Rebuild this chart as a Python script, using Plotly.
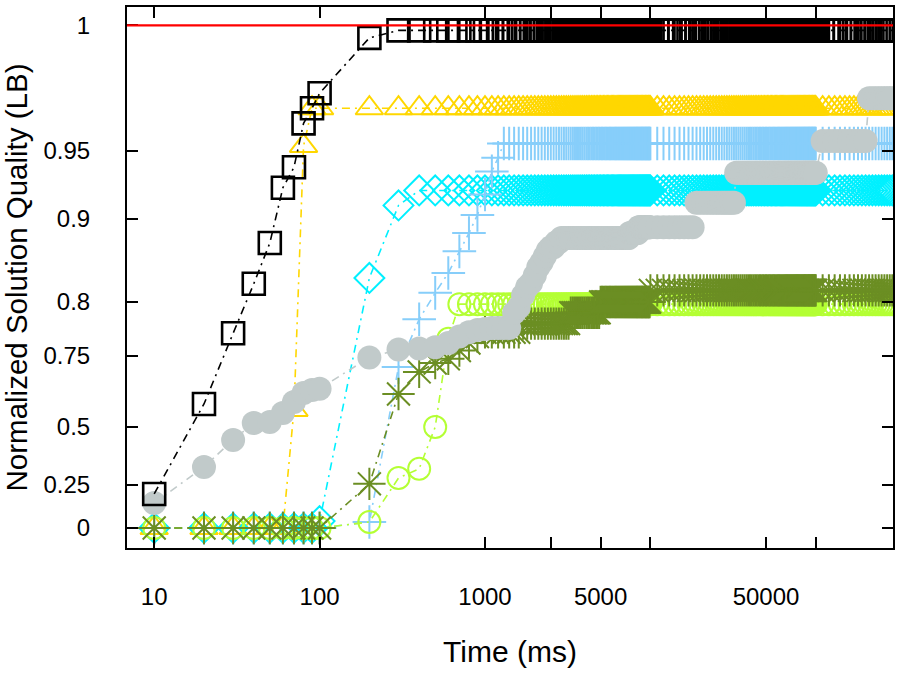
import numpy as np
import plotly.graph_objects as go

# ---------------- sample times (ms) ----------------
TIMES = (list(range(10, 100, 10)) + list(range(100, 10000, 100))
         + list(range(10000, 100000, 1000)) + list(range(100000, 300000, 10000)))

# ---------------- series: best-so-far quality, as (time, value) change points ----------------
BLACK_T = [10, 20, 30, 40, 50, 60, 70, 80, 90, 100, 200, 300]
BLACK_Q = [0.198, 0.581, 0.771, 0.822, 0.871, 0.923, 0.938, 0.961, 0.967, 0.973, 0.995, 0.998]

GOLD_T = [10, 70, 80, 90]
GOLD_Q = [0.0, 0.56, 0.952, 0.967]

CYAN_T = [10, 100, 200, 300, 400]
CYAN_Q = [0.0, 0.04, 0.829, 0.910, 0.921]

LBLUE_T = [10, 200, 300, 400, 500, 600, 700, 800, 900, 1000, 1100, 1200, 1300]
LBLUE_Q = [0.0, 0.035, 0.711, 0.784, 0.811, 0.835, 0.861, 0.883, 0.903, 0.918, 0.935, 0.945, 0.953]

GYELLOW_T = [10, 200, 300, 400, 500, 600, 700]
GYELLOW_Q = [0.0, 0.035, 0.28, 0.32, 0.5, 0.766, 0.798]

OLIVE_T = [10, 200, 300, 400, 500, 600, 700, 800, 900, 1000, 1700, 3300, 5000, 10000]
OLIVE_Q = [0.0, 0.255, 0.616, 0.694, 0.725, 0.74, 0.755, 0.762, 0.768, 0.772, 0.78, 0.79, 0.80, 0.814]

GRAY_T = [10, 20, 30, 40, 50, 60, 70, 80, 90, 100, 200, 300, 400, 500, 600, 700, 800, 900,
          1000, 1100, 1500, 1600, 1700, 1800, 1900, 2000, 2100, 2200, 2300, 2400, 2500, 2700,
          2900, 7500, 8500, 19000, 33000, 110000, 210000]
GRAY_Q = [0.145, 0.328, 0.444, 0.514, 0.518, 0.549, 0.588, 0.62, 0.63, 0.635, 0.745, 0.756,
          0.757, 0.758, 0.762, 0.768, 0.772, 0.774, 0.775, 0.776, 0.79, 0.795, 0.808, 0.818,
          0.823, 0.832, 0.842, 0.848, 0.855, 0.862, 0.866, 0.872, 0.877, 0.883, 0.89, 0.912,
          0.934, 0.954, 0.971]

OPTIMUM = 1.0

# ---------------- axes ----------------
X_TICK_VALS = [10, 100, 1000, 2500, 5000, 10000, 50000, 100000]
X_TICK_TEXT = ["10", "100", "1000", "", "5000", "", "50000", ""]

Y_TICK_VALS = [0, 0.25, 0.5, 0.75, 0.8, 0.9, 0.95, 1.0]
Y_TICK_TEXT = ["0", "0.25", "0.5", "0.75", "0.8", "0.9", "0.95", "1"]
# non-linear quality scale: display position of each tick value
Y_SCALE_POS = [20, 63, 121, 192, 246, 329, 397, 522.7]
Y_DISPLAY_RANGE = [0, 541]

t_arr = np.array(TIMES, dtype=float)


def expand(bt, bq):
    idx = np.searchsorted(np.array(bt, dtype=float), t_arr, side="right") - 1
    return np.array(bq)[idx]


def to_disp(q):
    return np.interp(q, Y_TICK_VALS, Y_SCALE_POS)


DASH = "8px,5px,2px,5px"
fig = go.Figure()

series = [
    ("Gold", GOLD_T, GOLD_Q, "#FFD700", "triangle-up-open", 24, 2),
    ("Cyan", CYAN_T, CYAN_Q, "#00F0FF", "diamond-open", 23, 2),
    ("LightBlue", LBLUE_T, LBLUE_Q, "#87CEFA", "cross-thin-open", 24, 2),
    ("GreenYellow", GYELLOW_T, GYELLOW_Q, "#B4FF34", "circle-open", 22, 2),
    ("Olive", OLIVE_T, OLIVE_Q, "#6B8E23", "asterisk-open", 27, 2),
    ("Gray", GRAY_T, GRAY_Q, "#C1CACA", "circle", 24, 0),
    ("Black", BLACK_T, BLACK_Q, "#000000", "square-open", 22, 2.6),
]

for name, bt, bq, col, sym, size, lw in series:
    y = to_disp(expand(bt, bq))
    fig.add_trace(go.Scatter(
        x=TIMES, y=y, name=name, mode="lines+markers",
        line=dict(color=col, width=1.6, dash=DASH),
        marker=dict(symbol=sym, size=size, color=col,
                    line=dict(color=col, width=lw)),
        cliponaxis=True,
    ))

fig.add_hline(y=float(to_disp(OPTIMUM)), line=dict(color="#FF0000", width=2.2), layer="above")

FONT = "Liberation Sans, Arial, Helvetica, sans-serif"
fig.update_layout(
    width=900, height=675,
    margin=dict(l=127, r=7, t=7, b=127),
    paper_bgcolor="white", plot_bgcolor="white",
    showlegend=False,
    font=dict(family=FONT, color="black"),
    xaxis=dict(
        type="log", range=[0.8356, 5.4668],
        tickvals=X_TICK_VALS, ticktext=X_TICK_TEXT,
        ticks="inside", ticklen=11, tickwidth=1.5, tickcolor="black",
        showline=True, linewidth=2, linecolor="black", mirror="ticks",
        showgrid=False, zeroline=False,
        tickfont=dict(size=24), ticklabelstandoff=26,
        title=dict(text="Time (ms)", font=dict(size=30), standoff=32),
        automargin=False,
    ),
    yaxis=dict(
        range=Y_DISPLAY_RANGE,
        tickvals=list(to_disp(Y_TICK_VALS)), ticktext=Y_TICK_TEXT,
        ticks="inside", ticklen=11, tickwidth=1.5, tickcolor="black",
        showline=True, linewidth=2, linecolor="black", mirror="ticks",
        showgrid=False, zeroline=False,
        tickfont=dict(size=24), ticklabelstandoff=30,
        title=dict(text="Normalized Solution Quality (LB)", font=dict(size=29.5), standoff=8),
        automargin=False,
    ),
)

fig.write_html("out.html")
